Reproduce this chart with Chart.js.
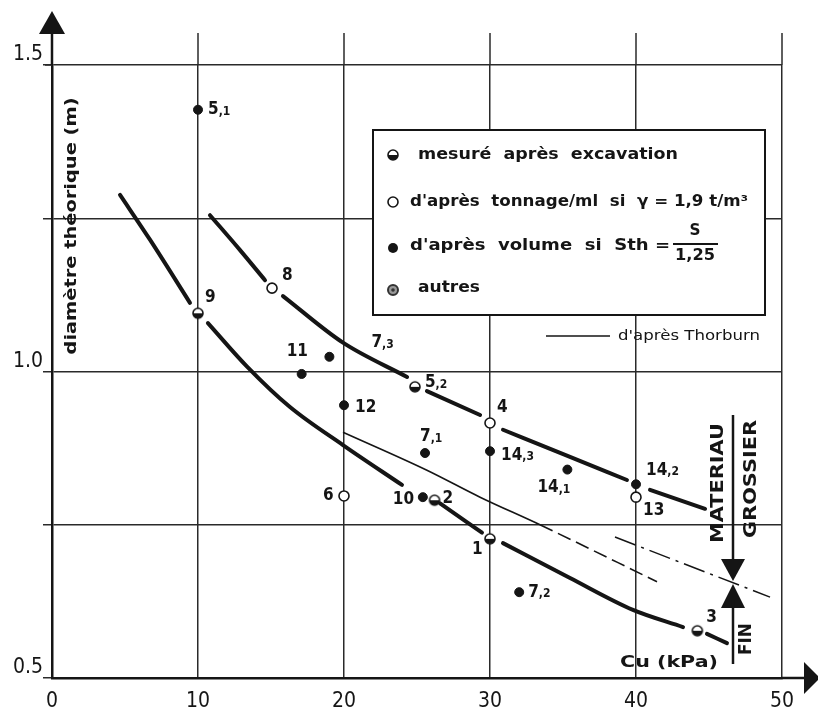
<!DOCTYPE html>
<html><head><meta charset="utf-8">
<script src="https://cdn.jsdelivr.net/npm/chart.js@4.4.1/dist/chart.umd.min.js"></script>
<style>html,body{margin:0;padding:0;background:#fff;}#wrap{width:818px;height:715px;}</style>
</head><body><div id="wrap"><canvas id="c" width="818" height="715"></canvas></div>
<script>
// ---------- data ----------
const xTickValues = [0, 10, 20, 30, 40, 50];
const yTickValues = [0.5, 1.0, 1.5];
const yTickLabels = ['0.5', '1.0', '1.5'];

// "d'après volume" (filled dots)
const volumeLabels = ['5,1', '7,3', '11', '12', '7,1', '10', '14,3', '14,1', '14,2', '7,2'];
const volumeX = [10, 19.0, 17.1, 20, 25.55, 25.4, 30, 35.3, 40, 32.0];
const volumeY = [1.427, 1.024, 0.996, 0.945, 0.867, 0.795, 0.870, 0.840, 0.816, 0.640];

// "d'après tonnage" (open circles)
const tonnageLabels = ['8', '6', '4', '13'];
const tonnageX = [15.07, 20, 30, 40];
const tonnageY = [1.136, 0.797, 0.916, 0.795];

// "mesuré après excavation" (half-filled)
const mesureLabels = ['9', '5,2', '2', '1', '3'];
const mesureX = [10, 24.86, 26.2, 30, 44.2];
const mesureY = [1.095, 0.975, 0.790, 0.727, 0.577];

// thick lower curve (null = gap at a point)
const lowerCurveX = [4.66, 6.71, 9.45, 10, 10.68, 13.36, 16.30, 19.93, 23.97, 25.4, 26.58, 29.45, 30, 30.89, 35.48, 39.79, 43.22, 44.2, 44.86, 46.23];
const lowerCurveY = [1.288, 1.215, 1.112, null, 1.079, 1.008, 0.942, 0.880, 0.815, null, 0.785, 0.737, null, 0.720, 0.663, 0.611, 0.583, null, 0.572, 0.557];

// thick upper curve
const upperCurveX = [10.82, 12.88, 14.59, 15.07, 15.82, 19.93, 24.32, 24.86, 25.68, 29.32, 30, 30.89, 35.14, 39.38, 40, 40.96, 44.73];
const upperCurveY = [1.255, 1.198, 1.149, null, 1.123, 1.047, 0.991, null, 0.968, 0.929, null, 0.905, 0.864, 0.823, null, 0.807, 0.776];

// Thorburn line
const thorburnX = [19.93, 25.68, 29.32, 33.42, 41.44];
const thorburnY = [0.901, 0.839, 0.795, 0.750, 0.657];

// dash-dot line
const dashDotX = [38.56, 49.18];
const dashDotY = [0.730, 0.632];

// ---------- presentation ----------
const labelOffsets = {
  '5,1':[10,0], '9':[7,-16], '8':[10,-13], '7,3':[42,-14], '11':[-15,-22], '12':[11,2],
  '5,2':[10,-4], '7,1':[-5,-16], '6':[-21,0], '10':[-30,2], '2':[8,-2], '4':[7,-15],
  '14,3':[11,4], '14,1':[-30,18], '14,2':[10,-14], '13':[7,13], '1':[-18,11], '7,2':[9,0], '3':[9,-13]
};
const INK = '#151515';
const GRID = '#2a2a2a';

function pts(X, Y) { return X.map((x, i) => ({x: x, y: Y[i]})); }

function halfMarker(r) {
  const s = 2 * r + 4, c = document.createElement('canvas');
  c.width = s; c.height = s;
  const g = c.getContext('2d'), m = s / 2;
  g.beginPath(); g.arc(m, m, r, 0, 2 * Math.PI); g.fillStyle = '#fff'; g.fill();
  g.beginPath(); g.arc(m, m, r, 0, Math.PI); g.closePath(); g.fillStyle = INK; g.fill();
  g.beginPath(); g.arc(m, m, r, 0, 2 * Math.PI); g.lineWidth = 1.6; g.strokeStyle = INK; g.stroke();
  return c;
}
const halfImg = halfMarker(5);

function fitText(ctx, text, x, y, w, font, rot) {
  ctx.save();
  ctx.font = font;
  const m = ctx.measureText(text).width;
  ctx.translate(x, y);
  if (rot) ctx.rotate(rot);
  ctx.scale(w / m, 1);
  ctx.textAlign = 'center'; ctx.textBaseline = 'middle';
  ctx.fillStyle = INK;
  ctx.fillText(text, 0, 0);
  ctx.restore();
}

function drawPointLabel(ctx, label, px, py) {
  const off = labelOffsets[label] || [8, 0];
  const parts = label.split(',');
  let x = px + off[0], y = py + off[1];
  ctx.save();
  ctx.fillStyle = INK; ctx.textBaseline = 'middle'; ctx.textAlign = 'left';
  ctx.font = 'bold 17px "DejaVu Sans Condensed"';
  ctx.fillText(parts[0], x, y);
  if (parts.length > 1) {
    const w = ctx.measureText(parts[0]).width;
    ctx.font = 'bold 12px "DejaVu Sans Condensed"';
    ctx.fillText(',' + parts[1], x + w, y + 2);
  }
  ctx.restore();
}

const decorPlugin = {
  id: 'decor',
  beforeDatasetsDraw(chart) {
    const ctx = chart.ctx;
    // legend box
    ctx.save();
    ctx.fillStyle = '#fff';
    ctx.fillRect(373, 130, 392, 185);
    ctx.lineWidth = 2; ctx.strokeStyle = INK;
    ctx.strokeRect(373, 130, 392, 185);
    // markers
    const mx = 393;
    ctx.drawImage(halfImg, mx - 7, 155 - 7);
    ctx.beginPath(); ctx.arc(mx, 202, 5, 0, 2 * Math.PI); ctx.fillStyle = '#fff'; ctx.fill(); ctx.lineWidth = 1.6; ctx.stroke();
    ctx.beginPath(); ctx.arc(mx, 248, 5, 0, 2 * Math.PI); ctx.fillStyle = INK; ctx.fill();
    ctx.beginPath(); ctx.arc(mx, 290, 5, 0, 2 * Math.PI); ctx.fillStyle = '#999'; ctx.fill(); ctx.lineWidth = 2; ctx.strokeStyle = '#333'; ctx.stroke();
    ctx.beginPath(); ctx.arc(mx, 290, 1.8, 0, 2 * Math.PI); ctx.fillStyle = '#333'; ctx.fill();
    ctx.restore();
    const lf = 'bold 16px "DejaVu Sans"';
    fitText(ctx, 'mesuré  après  excavation', 548, 155, 260, lf);
    fitText(ctx, "d'après  tonnage/ml  si  γ = 1,9 t/m³", 579, 202, 338, lf);
    fitText(ctx, "d'après  volume  si  Sth =", 540, 246, 260, lf);
    fitText(ctx, 'S', 695, 231, 11, lf);
    fitText(ctx, '1,25', 695, 256, 40, lf);
    ctx.save(); ctx.strokeStyle = INK; ctx.lineWidth = 2;
    ctx.beginPath(); ctx.moveTo(673, 244); ctx.lineTo(718, 244); ctx.stroke(); ctx.restore();
    fitText(ctx, 'autres', 449, 288, 62, lf);
    // Thorburn legend
    ctx.save(); ctx.strokeStyle = INK; ctx.lineWidth = 1.5;
    ctx.beginPath(); ctx.moveTo(546, 336); ctx.lineTo(610, 336); ctx.stroke(); ctx.restore();
    fitText(ctx, "d'après Thorburn", 689, 336, 142, '14px "DejaVu Sans"');
  },
  afterDraw(chart) {
    const ctx = chart.ctx, a = chart.chartArea, xs = chart.scales.x;
    ctx.save();
    ctx.strokeStyle = GRID; ctx.lineWidth = 1.5;
    // gridline extensions above top
    xTickValues.slice(1).forEach(v => {
      const px = xs.getPixelForValue(v);
      ctx.beginPath(); ctx.moveTo(px, a.top); ctx.lineTo(px, a.top - 32); ctx.stroke();
    });
    ctx.beginPath(); ctx.moveTo(a.left - 7, a.top); ctx.lineTo(a.left, a.top); ctx.stroke();
    // axis arrows
    ctx.strokeStyle = INK; ctx.fillStyle = INK; ctx.lineWidth = 2.5;
    ctx.beginPath(); ctx.moveTo(a.left, a.top); ctx.lineTo(a.left, 30); ctx.stroke();
    ctx.beginPath(); ctx.moveTo(a.left, 11); ctx.lineTo(a.left - 13, 34); ctx.lineTo(a.left + 13, 34); ctx.closePath(); ctx.fill();
    ctx.beginPath(); ctx.moveTo(a.right, a.bottom); ctx.lineTo(806, a.bottom); ctx.stroke();
    ctx.beginPath(); ctx.moveTo(820, a.bottom); ctx.lineTo(804, a.bottom - 16); ctx.lineTo(804, a.bottom + 16); ctx.closePath(); ctx.fill();
    // right-side arrows
    ctx.lineWidth = 2.5;
    ctx.beginPath(); ctx.moveTo(733, 415); ctx.lineTo(733, 565); ctx.stroke();
    ctx.beginPath(); ctx.moveTo(733, 581); ctx.lineTo(721, 559); ctx.lineTo(745, 559); ctx.closePath(); ctx.fill();
    ctx.beginPath(); ctx.moveTo(733, 584); ctx.lineTo(721, 608); ctx.lineTo(745, 608); ctx.closePath(); ctx.fill();
    ctx.beginPath(); ctx.moveTo(733, 600); ctx.lineTo(733, 664); ctx.stroke();
    ctx.restore();
    fitText(ctx, 'MATERIAU', 719, 483, 120, 'bold 17px "DejaVu Sans"', -Math.PI / 2);
    fitText(ctx, 'GROSSIER', 752, 479, 118, 'bold 17px "DejaVu Sans"', -Math.PI / 2);
    fitText(ctx, 'FIN', 747, 639, 32, 'bold 17px "DejaVu Sans"', -Math.PI / 2);
    // axis titles
    fitText(ctx, 'diamètre théorique (m)', 72, 226, 257, 'bold 16px "DejaVu Sans"', -Math.PI / 2);
    fitText(ctx, 'Cu (kPa)', 669, 663, 98, 'bold 15px "DejaVu Sans"');
    // point labels
    const groups = [[0, volumeLabels], [1, tonnageLabels], [2, mesureLabels]];
    groups.forEach(([di, labels]) => {
      const meta = chart.getDatasetMeta(di);
      meta.data.forEach((el, i) => drawPointLabel(ctx, labels[i], el.x, el.y));
    });
  }
};

new Chart(document.getElementById('c'), {
  type: 'scatter',
  data: {
    datasets: [
      { label: 'volume', data: pts(volumeX, volumeY), pointStyle: 'circle', pointRadius: 4.5,
        backgroundColor: INK, borderColor: INK, borderWidth: 1, order: 1 },
      { label: 'tonnage', data: pts(tonnageX, tonnageY), pointStyle: 'circle', pointRadius: 5,
        backgroundColor: '#fff', borderColor: INK, borderWidth: 1.6, order: 1 },
      { label: 'mesure', data: pts(mesureX, mesureY), pointStyle: halfImg, pointRadius: 5, order: 1 },
      { label: 'lower', type: 'line', data: pts(lowerCurveX, lowerCurveY), showLine: true, spanGaps: false,
        borderColor: INK, borderWidth: 4, pointRadius: 0, cubicInterpolationMode: 'monotone',
        borderCapStyle: 'round', order: 2 },
      { label: 'upper', type: 'line', data: pts(upperCurveX, upperCurveY), showLine: true, spanGaps: false,
        borderColor: INK, borderWidth: 4, pointRadius: 0, cubicInterpolationMode: 'monotone',
        borderCapStyle: 'round', order: 2 },
      { label: 'Thorburn', type: 'line', data: pts(thorburnX, thorburnY), showLine: true,
        borderColor: INK, borderWidth: 1.6, pointRadius: 0, cubicInterpolationMode: 'monotone',
        segment: { borderDash: c => c.p0.parsed.x >= 33 ? [14, 6] : undefined }, order: 3 },
      { label: 'dashdot', type: 'line', data: pts(dashDotX, dashDotY), showLine: true,
        borderColor: INK, borderWidth: 1.5, pointRadius: 0, borderDash: [22, 6, 3, 6], order: 3 }
    ]
  },
  options: {
    responsive: false, animation: false, devicePixelRatio: 1,
    layout: { padding: { top: 65, right: 36, left: 0, bottom: 0 } },
    plugins: { legend: { display: false }, tooltip: { enabled: false } },
    scales: {
      x: {
        type: 'linear', min: 0, max: 50,
        afterFit: s => { s.height = 37; },
        afterBuildTicks: s => { s.ticks = xTickValues.map(v => ({value: v})); },
        ticks: { color: INK, font: { family: 'DejaVu Sans Condensed', size: 21 }, padding: 11, maxRotation: 0 },
        grid: { color: GRID, lineWidth: 1.5, drawTicks: false },
        border: { color: INK, width: 2.5 }
      },
      y: {
        type: 'linear', min: 0.5, max: 1.5,
        afterFit: s => { s.width = 52; },
        ticks: { stepSize: 0.25, color: INK, font: { family: 'DejaVu Sans Condensed', size: 21 },
          padding: 0, labelOffset: -10,
          callback: v => { const i = yTickValues.indexOf(v); return i >= 0 ? yTickLabels[i] : ''; } },
        grid: { color: GRID, lineWidth: 1.5, tickLength: 9 },
        border: { color: INK, width: 2.5 }
      }
    }
  },
  plugins: [decorPlugin]
});
</script></body></html>
